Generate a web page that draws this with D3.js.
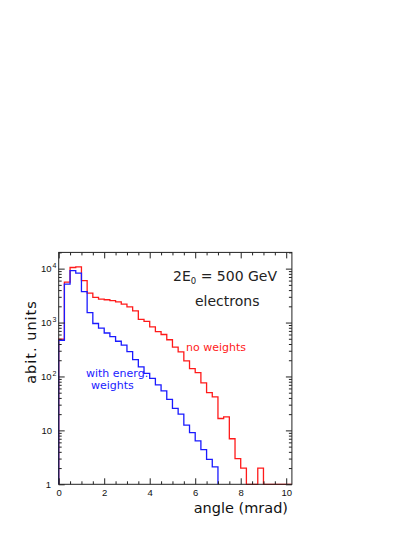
<!DOCTYPE html>
<html>
<head>
<meta charset="utf-8">
<script src="https://cdn.jsdelivr.net/npm/d3@7"></script>
<style>
  html, body { margin: 0; padding: 0; background: #fff; }
  svg { display: block; }
</style>
</head>
<body>
<svg id="chart" width="420" height="543"></svg>
<script>
// ---- data ----
const binWidth = 0.25; // mrad
const redNoWeights = [490, 5600, 10500, 10800, 6000, 3500, 2930, 2720, 2650, 2550,
  2420, 2200, 1950, 1650, 1150, 1050, 830, 680, 600, 480,
  350, 285, 195, 140, 118, 76, 50, 42, 16.6, 17.8,
  7, 3, 2, 0, 0, 2, 0, 0, 0, 0, 0];
const blueEnergWeights = [470, 5150, 9200, 8250, 3750, 1530, 960, 790, 640, 550,
  450, 380, 290, 205, 150, 114, 92, 70, 54, 37.5,
  25.5, 20, 12.5, 9.1, 6.4, 4.4, 2.9, 2.1];
const xTickValues = [0, 2, 4, 6, 8, 10];
const yDecades = [0, 1, 2, 3, 4];
const xTitle = "angle (mrad)";
const yTitle = "abit. units";
const labelEnergy = ["2E", "0", " = 500 GeV"];
const labelParticle = "electrons";
const labelRed = "no weights";
const labelBlue = ["with energ.", "weights"];

// ---- layout ----
const svg = d3.select("#chart");
const L = 58.7, R = 291.9, T = 252.4, B = 484.3;
const x = d3.scaleLinear().domain([0, 10.25]).range([L, R]);
const y = d3.scaleLog().domain([1, 2e4]).range([B, T]);

const axisColor = "#222";
const sans = "'Liberation Sans', Arial, sans-serif";
const wide = "'DejaVu Sans', sans-serif";

// histograms
function histPath(vals, endX) {
  const p = d3.path();
  p.moveTo(x(0), y(1));
  vals.forEach((v, i) => {
    const yy = y(Math.max(v, 1));
    p.lineTo(x(i * binWidth), yy);
    p.lineTo(x((i + 1) * binWidth), yy);
  });
  p.lineTo(x(endX), y(1));
  return p.toString();
}
svg.append("path")
  .attr("d", histPath(redNoWeights, redNoWeights.length * binWidth))
  .attr("fill", "none").attr("stroke", "#ff1a1a").attr("stroke-width", 1.3);
svg.append("path")
  .attr("d", histPath(blueEnergWeights, blueEnergWeights.length * binWidth))
  .attr("fill", "none").attr("stroke", "#1a1aff").attr("stroke-width", 1.3);

// axes ticks
const xMinor = d3.range(0, 10.25, 0.5).filter(v => v % 2 !== 0);
const yMinor = [];
yDecades.forEach(d => { for (let m = 2; m <= 9; m++) { const v = m * Math.pow(10, d); if (v <= 2e4) yMinor.push(v); } });

function styleAxis(g) {
  g.select(".domain").remove();
  g.selectAll("line").attr("stroke", axisColor).attr("stroke-width", 1);
}
// bottom
svg.append("g").attr("transform", `translate(0,${B})`)
  .call(d3.axisBottom(x).tickValues(xTickValues).tickSizeInner(-6).tickSizeOuter(0).tickPadding(5).tickFormat(d3.format("d")))
  .call(styleAxis)
  .call(g => g.selectAll("text").attr("font-family", sans).attr("font-size", 9.5).attr("fill", "#111"));
svg.append("g").attr("transform", `translate(0,${B})`)
  .call(d3.axisBottom(x).tickValues(xMinor).tickSizeInner(-3).tickSizeOuter(0).tickFormat(""))
  .call(styleAxis);
// top
svg.append("g").attr("transform", `translate(0,${T})`)
  .call(d3.axisTop(x).tickValues(xTickValues).tickSizeInner(-6).tickSizeOuter(0).tickFormat(""))
  .call(styleAxis);
svg.append("g").attr("transform", `translate(0,${T})`)
  .call(d3.axisTop(x).tickValues(xMinor).tickSizeInner(-3).tickSizeOuter(0).tickFormat(""))
  .call(styleAxis);
// left
const yMajorVals = yDecades.map(d => Math.pow(10, d));
svg.append("g").attr("transform", `translate(${L},0)`)
  .call(d3.axisLeft(y).tickValues(yMajorVals).tickSizeInner(-6).tickSizeOuter(0).tickFormat(""))
  .call(styleAxis);
svg.append("g").attr("transform", `translate(${L},0)`)
  .call(d3.axisLeft(y).tickValues(yMinor).tickSizeInner(-3).tickSizeOuter(0).tickFormat(""))
  .call(styleAxis);
// right
svg.append("g").attr("transform", `translate(${R},0)`)
  .call(d3.axisRight(y).tickValues(yMajorVals).tickSizeInner(-6).tickSizeOuter(0).tickFormat(""))
  .call(styleAxis);
svg.append("g").attr("transform", `translate(${R},0)`)
  .call(d3.axisRight(y).tickValues(yMinor).tickSizeInner(-3).tickSizeOuter(0).tickFormat(""))
  .call(styleAxis);

// y labels with superscripts
yDecades.forEach(d => {
  const t = svg.append("text")
    .attr("x", 52).attr("y", y(Math.pow(10, d))).attr("dy", "0.35em")
    .attr("font-family", sans).attr("font-size", 9.5).attr("fill", "#111");
  if (d === 0) { t.attr("text-anchor", "end").attr("x", 51).text("1"); }
  else if (d === 1) { t.attr("text-anchor", "end").text("10"); }
  else {
    t.attr("x", 41);
    t.append("tspan").text("10");
    t.append("tspan").attr("font-size", 7).attr("dy", "-3.5").attr("dx", "0.8").text(String(d));
  }
});

// frame
svg.append("rect").attr("x", L).attr("y", T).attr("width", R - L).attr("height", B - T)
  .attr("fill", "none").attr("stroke", axisColor).attr("stroke-width", 1);

// titles
svg.append("text").attr("x", 288).attr("y", 513).attr("text-anchor", "end")
  .attr("font-family", wide).attr("font-size", 14.5).attr("fill", "#111").text(xTitle);
svg.append("text").attr("transform", "translate(35.5,342) rotate(-90)").attr("text-anchor", "middle")
  .attr("font-family", wide).attr("font-size", 14.5).attr("letter-spacing", 1).attr("fill", "#111").text(yTitle);

// annotations
const te = svg.append("text").attr("x", 173).attr("y", 281)
  .attr("font-family", wide).attr("font-size", 14).attr("fill", "#222");
te.append("tspan").text(labelEnergy[0]);
te.append("tspan").attr("font-size", 8.5).attr("dy", 2.5).text(labelEnergy[1]);
te.append("tspan").attr("dy", -2.5).text(labelEnergy[2]);
svg.append("text").attr("x", 195).attr("y", 306)
  .attr("font-family", wide).attr("font-size", 14).attr("fill", "#222").text(labelParticle);
svg.append("text").attr("x", 186).attr("y", 351)
  .attr("font-family", wide).attr("font-size", 11).attr("fill", "#ff1a1a").text(labelRed);
svg.append("text").attr("x", 86).attr("y", 377)
  .attr("font-family", wide).attr("font-size", 11).attr("fill", "#1a1aff").text(labelBlue[0]);
svg.append("text").attr("x", 91).attr("y", 389)
  .attr("font-family", wide).attr("font-size", 11).attr("fill", "#1a1aff").text(labelBlue[1]);
</script>
</body>
</html>
